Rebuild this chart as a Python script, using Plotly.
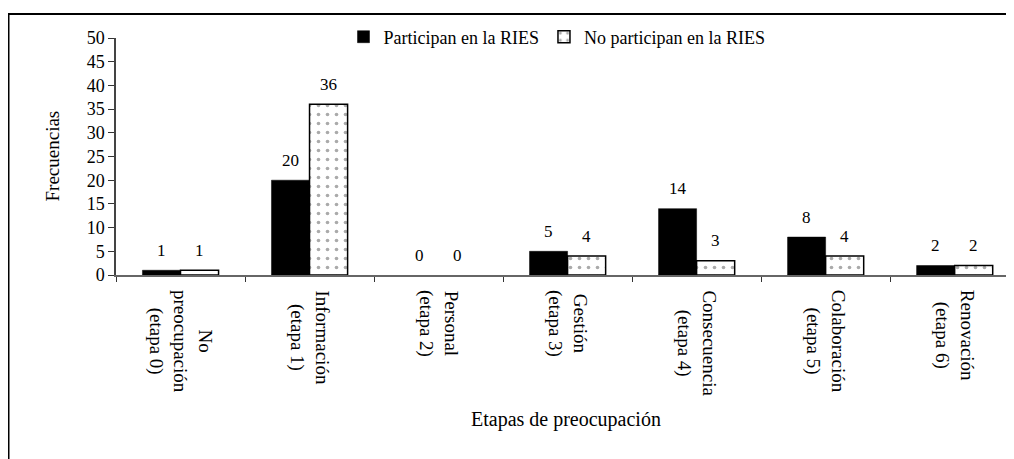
import plotly.graph_objects as go

categories = ["No preocupación (etapa 0)", "Información (etapa 1)", "Personal (etapa 2)",
              "Gestión (etapa 3)", "Consecuencia (etapa 4)", "Colaboración (etapa 5)",
              "Renovación (etapa 6)"]
cat_labels = ["No<br>preocupación<br>(etapa 0)", "Información<br>(etapa 1)", "Personal<br>(etapa 2)",
              "Gestión<br>(etapa 3)", "Consecuencia<br>(etapa 4)", "Colaboración<br>(etapa 5)",
              "Renovación<br>(etapa 6)"]
participan = [1, 20, 0, 5, 14, 8, 2]
no_participan = [1, 36, 0, 4, 3, 4, 2]
series_names = ["Participan en la RIES", "No participan en la RIES"]
y_title = "Frecuencias"
x_title = "Etapas de preocupación"

FONT = "Liberation Serif, Times New Roman, serif"
OFF = 8  # page body margin
W, H = 1014 - OFF, 459 - OFF
ML, MR, MT, MB = 116 - OFF, 0, 38 - OFF, 184
PW, PH = W - ML - MR, H - MT - MB


def px_x(page_x):
    return (page_x - OFF - ML) / PW


def px_y(page_y):
    return (MT + PH - (page_y - OFF)) / PH


fig = go.Figure()
fig.add_trace(go.Bar(
    x=categories, y=participan, name=series_names[0],
    marker=dict(color="black", line=dict(color="black", width=[0.5 if v else 0 for v in participan])),
))
fig.add_trace(go.Bar(
    x=categories, y=no_participan, name=series_names[1],
    marker=dict(color="white", line=dict(color="black", width=[1.5 if v else 0 for v in no_participan]),
                pattern=dict(shape=".", fgcolor="#555555", bgcolor="white", size=9, solidity=0.13)),
))

bargap = 0.41
half = (1 - bargap) / 4

annotations = []
for i, (a, b) in enumerate(zip(participan, no_participan)):
    annotations.append(dict(x=i - half, y=a, xref="x", yref="y", text=str(a), showarrow=False,
                            yanchor="middle", yshift=20, font=dict(family=FONT, size=17, color="black")))
    annotations.append(dict(x=i + half, y=b, xref="x", yref="y", text=str(b), showarrow=False,
                            yanchor="middle", yshift=20, font=dict(family=FONT, size=17, color="black")))

for i, lab in enumerate(cat_labels):
    annotations.append(dict(x=i, y=px_y(288), xref="x", yref="paper", text=lab, showarrow=False,
                            textangle=90, xanchor="center", yanchor="top", align="center",
                            font=dict(family=FONT, size=19, color="black")))

annotations.append(dict(x=px_x(52), y=0.5, xref="paper", yref="paper", text=y_title,
                        showarrow=False, textangle=-90, xanchor="center", yanchor="middle",
                        font=dict(family=FONT, size=19, color="black")))
annotations.append(dict(x=px_x(566), y=px_y(420), xref="paper", yref="paper",
                        text=x_title, showarrow=False, xanchor="center", yanchor="middle",
                        font=dict(family=FONT, size=20, color="black")))

fig.update_layout(
    width=W, height=H,
    margin=dict(l=ML, r=MR, t=MT, b=MB, pad=0, autoexpand=False),
    paper_bgcolor="white", plot_bgcolor="white",
    barmode="group", bargap=bargap, bargroupgap=0,
    font=dict(family=FONT, size=16, color="black"),
    showlegend=True,
    legend=dict(orientation="h", x=px_x(557), xanchor="center", y=px_y(37),
                yanchor="middle", bgcolor="rgba(0,0,0,0)", font=dict(family=FONT, size=18),
                itemwidth=30, traceorder="normal"),
    xaxis=dict(type="category", range=[-0.5, 6.46], showticklabels=False, ticks="outside",
               tickson="boundaries", ticklen=5, tickcolor="#333333", showline=True,
               linecolor="#666666", linewidth=1.5, showgrid=False, zeroline=False, automargin=False),
    yaxis=dict(range=[0, 50], dtick=5, ticks="outside", ticklen=6, tickcolor="#333333",
               showline=True, linecolor="#444444", linewidth=1.5, showgrid=False, zeroline=False,
               automargin=False, tickfont=dict(family=FONT, size=18, color="black")),
    annotations=annotations,
    shapes=[dict(type="rect", xref="paper", yref="paper",
                 x0=px_x(8.5), x1=1.05, y0=-1.0, y1=px_y(14),
                 line=dict(color="black", width=2), fillcolor="rgba(0,0,0,0)", layer="below")],
)

fig.write_html("out.html")
